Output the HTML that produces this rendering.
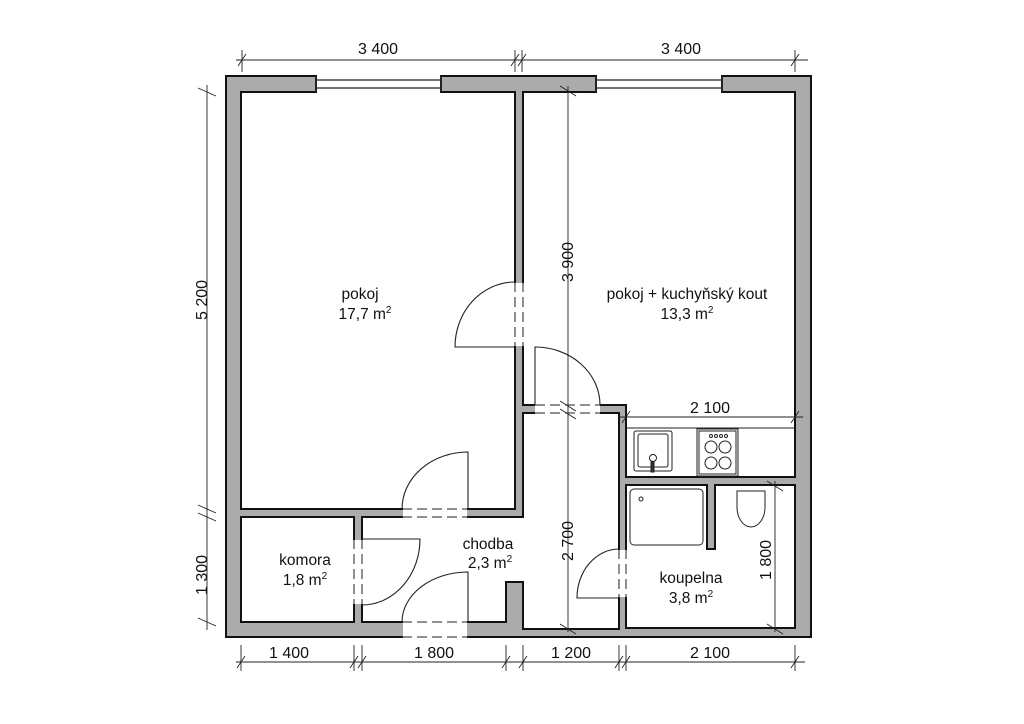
<!DOCTYPE html>
<html><head><meta charset="utf-8"><style>
html,body{margin:0;padding:0;background:#fff;}
svg{display:block;}
text{font-family:"Liberation Sans",sans-serif;fill:#111;}
</style></head><body>
<svg width="1024" height="724" viewBox="0 0 1024 724" xmlns="http://www.w3.org/2000/svg">
<rect width="1024" height="724" fill="#fff"/>
<!-- walls -->
<path fill="#ababab" stroke="#111" stroke-width="2" fill-rule="evenodd" d="
M226,76 H811 V637 H226 Z
M241,92 H515 V509 H241 Z
M523,92 H795 V477 H626 V405 H523 Z
M523,413 H619 V629 H523 V582 H506 V622 H362 V517 H523 Z
M241,517 H354 V622 H241 Z
M626,485 H707 V549 H715 V485 H795 V628 H626 Z"/>
<!-- openings -->
<g fill="#fff">
<rect x="317" y="73" width="123" height="21"/>
<rect x="597" y="73" width="124" height="21"/>
<rect x="513" y="283" width="12" height="63"/>
<rect x="535" y="403" width="65" height="12"/>
<rect x="403" y="507" width="64" height="12"/>
<rect x="352" y="540" width="12" height="64"/>
<rect x="403" y="620" width="64" height="19"/>
<rect x="617" y="550" width="11" height="47"/>
</g>
<g stroke="#222" stroke-width="1.2" fill="none">
<line x1="316" y1="80" x2="441" y2="80"/><line x1="316" y1="88" x2="441" y2="88"/>
<line x1="596" y1="80" x2="722" y2="80"/><line x1="596" y1="88" x2="722" y2="88"/>
<line x1="316" y1="76" x2="316" y2="92" stroke-width="2"/><line x1="441" y1="76" x2="441" y2="92" stroke-width="2"/>
<line x1="596" y1="76" x2="596" y2="92" stroke-width="2"/><line x1="722" y1="76" x2="722" y2="92" stroke-width="2"/>
</g>
<g stroke="#222" stroke-width="1" fill="none" stroke-dasharray="10,5">
<line x1="515" y1="282" x2="515" y2="347"/><line x1="523" y1="282" x2="523" y2="347"/>
<line x1="535" y1="405" x2="600" y2="405"/><line x1="535" y1="413" x2="600" y2="413"/>
<line x1="402" y1="509" x2="468" y2="509"/><line x1="402" y1="517" x2="468" y2="517"/>
<line x1="354" y1="539" x2="354" y2="605"/><line x1="362" y1="539" x2="362" y2="605"/>
<line x1="402" y1="622" x2="468" y2="622"/><line x1="402" y1="637" x2="468" y2="637"/>
<line x1="619" y1="549" x2="619" y2="598"/><line x1="626" y1="549" x2="626" y2="598"/>
</g>
<!-- door leaves and arcs -->
<g stroke="#222" stroke-width="1.1" fill="none">
<path d="M514,347 H455 A60,65 0 0 1 514,282"/>
<path d="M535,405 V347 A65,58 0 0 1 600,405"/>
<path d="M468,509 V452 A66,57 0 0 0 402,509"/>
<path d="M362,539 H420 A58,66 0 0 1 362,605"/>
<path d="M468,622 V572 A66,50 0 0 0 402,622"/>
<path d="M619,598 H577 A42,49 0 0 1 619,549"/>
</g>
<!-- kitchen -->
<g stroke="#222" stroke-width="1" fill="none">
<line x1="626" y1="428" x2="795" y2="428"/>
<rect x="634" y="431" width="38" height="40" rx="2"/>
<rect x="638" y="434" width="30" height="33" rx="2"/>
<circle cx="653" cy="458" r="3.5"/>
<rect x="651" y="462" width="3" height="10" fill="#333"/>
<rect x="697" y="429" width="41" height="47"/>
<rect x="699" y="431" width="37" height="43"/>
<circle cx="711" cy="447" r="6"/><circle cx="725" cy="447" r="6"/>
<circle cx="711" cy="463" r="6"/><circle cx="725" cy="463" r="6"/>
<circle cx="711" cy="436" r="1.5"/><circle cx="716" cy="436" r="1.5"/><circle cx="721" cy="436" r="1.5"/><circle cx="726" cy="436" r="1.5"/>
<rect x="630" y="489" width="73" height="56" rx="4"/>
<circle cx="641" cy="499" r="2"/>
<path d="M737,491 H765 V507 A14,20 0 0 1 737,507 Z"/>
</g>
<!-- dimensions -->
<g stroke="#222" stroke-width="0.9" fill="none">
<line x1="236" y1="60" x2="808" y2="60"/>
<line x1="242" y1="50" x2="242" y2="72"/><line x1="515" y1="50" x2="515" y2="72"/><line x1="522" y1="50" x2="522" y2="72"/><line x1="795" y1="50" x2="795" y2="72"/>
<path d="M238,66 L246,54 M511,66 L519,54 M518,66 L526,54 M791,66 L799,54"/>
<line x1="207" y1="85" x2="207" y2="630"/>
<path d="M198,88 L216,96 M198,505 L216,513 M198,513 L216,521 M198,618 L216,626"/>
<line x1="236" y1="662" x2="805" y2="662"/>
<line x1="241" y1="645" x2="241" y2="671"/><line x1="354" y1="645" x2="354" y2="671"/><line x1="362" y1="645" x2="362" y2="671"/><line x1="506" y1="645" x2="506" y2="671"/><line x1="523" y1="645" x2="523" y2="671"/><line x1="619" y1="645" x2="619" y2="671"/><line x1="626" y1="645" x2="626" y2="671"/><line x1="795" y1="645" x2="795" y2="671"/>
<path d="M237,668 L245,656 M350,668 L358,656 M358,668 L366,656 M502,668 L510,656 M519,668 L527,656 M615,668 L623,656 M622,668 L630,656 M791,668 L799,656"/>
<line x1="568" y1="86" x2="568" y2="632"/>
<path d="M560,86 L576,96 M560,401 L576,411 M560,409 L576,419 M560,624 L576,634"/>
<line x1="620" y1="417" x2="803" y2="417"/>
<path d="M622,423 L630,411 M791,423 L799,411"/>
<line x1="775" y1="481" x2="775" y2="632"/>
<path d="M767,481 L783,491 M767,624 L783,634"/>
</g>
<g font-size="16">
<text x="378" y="54" text-anchor="middle">3 400</text>
<text x="681" y="54" text-anchor="middle">3 400</text>
<text x="289" y="658" text-anchor="middle">1 400</text>
<text x="434" y="658" text-anchor="middle">1 800</text>
<text x="571" y="658" text-anchor="middle">1 200</text>
<text x="710" y="658" text-anchor="middle">2 100</text>
<text x="710" y="413" text-anchor="middle">2 100</text>
<text transform="translate(207,300) rotate(-90)" text-anchor="middle">5 200</text>
<text transform="translate(207,575) rotate(-90)" text-anchor="middle">1 300</text>
<text transform="translate(573,262) rotate(-90)" text-anchor="middle">3 900</text>
<text transform="translate(573,541) rotate(-90)" text-anchor="middle">2 700</text>
<text transform="translate(771,560) rotate(-90)" text-anchor="middle">1 800</text>
</g>
<g font-size="15.5" text-anchor="middle">
<text x="360" y="299">pokoj</text>
<text x="365" y="319">17,7 m<tspan font-size="10" dy="-6">2</tspan></text>
<text x="687" y="299">pokoj + kuchyňský kout</text>
<text x="687" y="319">13,3 m<tspan font-size="10" dy="-6">2</tspan></text>
<text x="305" y="565">komora</text>
<text x="305" y="585">1,8 m<tspan font-size="10" dy="-6">2</tspan></text>
<text x="488" y="549">chodba</text>
<text x="490" y="568">2,3 m<tspan font-size="10" dy="-6">2</tspan></text>
<text x="691" y="583">koupelna</text>
<text x="691" y="603">3,8 m<tspan font-size="10" dy="-6">2</tspan></text>
</g>
</svg>
</body></html>
